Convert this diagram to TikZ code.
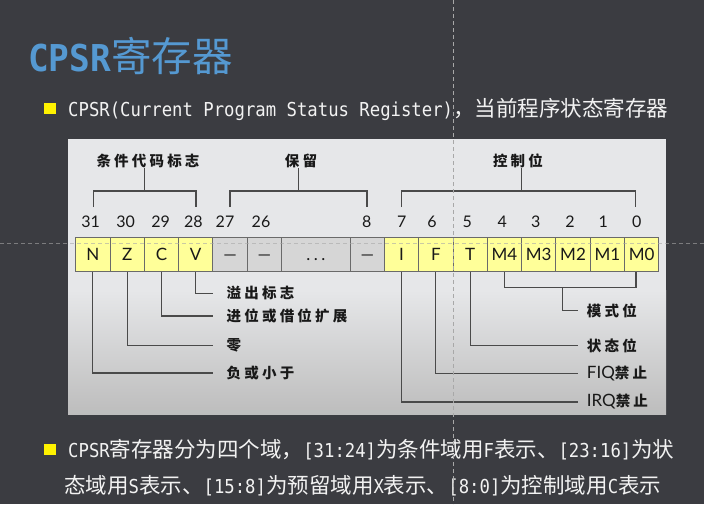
\documentclass[tikz,border=0pt]{standalone}
\usepackage{fontspec}
\setmainfont{Lato}
\newfontfamily\cjk{Noto Sans CJK SC}
\newfontfamily\cjksp[LetterSpace=22]{Noto Sans CJK SC}
\newfontfamily\monob[FakeStretch=0.90]{DejaVu Sans Mono}
\newfontfamily\monot[FakeStretch=0.93]{DejaVu Sans Mono}
\usetikzlibrary{calc}
\definecolor{bgc}{HTML}{3B3C41}
\definecolor{panelc}{HTML}{E6E7E9}
\definecolor{panelb}{HTML}{BDBDBD}
\definecolor{yel}{HTML}{FFFF99}
\definecolor{gry}{HTML}{D6D6D6}
\definecolor{cellb}{HTML}{6A6A6A}
\definecolor{lnc}{HTML}{4A4A4A}
\definecolor{titlec}{HTML}{5599D2}
\definecolor{txtc}{HTML}{F2F2F2}
\definecolor{guidec}{HTML}{A8A8A8}
\newcommand\LT[1]{{\fontsize{19.2}{23}\selectfont\monob #1}}
\newcommand\CJ[1]{{\fontsize{21.5}{25}\selectfont\cjk #1}}
\tikzset{
  cell/.style={draw=cellb, line width=1pt, inner sep=0pt, minimum height=34pt,
    text height=12.5pt, text depth=0pt, font=\fontsize{17}{20}\selectfont, text=black!90},
  num/.style={inner sep=0pt, font=\fontsize{16}{19}\selectfont, text=black!90},
  ln/.style={draw=lnc, line width=1.2pt},
  toplbl/.style={inner sep=0pt, font=\fontsize{14.5}{17}\selectfont\cjksp\bfseries, text=black!90},
  lbl/.style={inner ysep=0pt, anchor=west, font=\fontsize{14.5}{17}\selectfont\cjksp\bfseries, text=black!90},
  bullet/.style={fill=yellow, draw=none, minimum width=12pt, minimum height=11pt, inner sep=0pt},
  guide/.style={draw=guidec, line width=0.8pt, dash pattern=on 4pt off 3pt},
}
\begin{document}
\begin{tikzpicture}[x=1pt,y=-1pt]
\useasboundingbox (0,0) rectangle (704,504);
\fill[bgc] (0,0) rectangle (704,504);
% title
\node[anchor=base west, inner sep=0pt, text=titlec] (title) at (28,71)
  {{\fontsize{37}{40}\selectfont\monot\bfseries CPSR}{\fontsize{40.5}{44}\selectfont\cjk 寄存器}};
% bullet 1
\node[bullet] (sq1) at (49.5,108) {};
\node[anchor=base west, inner sep=0pt, text=txtc] (t1) at (68,116)
  {\LT{CPSR(Current Program Status Register)}\CJ{，当前程序状态寄存器}};
% panel
\begin{scope}
\clip (68,139) rectangle (666,414);
\fill[panelc] (68,139) rectangle (666,414);
\shade[top color=panelc, bottom color=panelb] (68,290) rectangle (666,414);
% cells
\foreach \nm/\lab/\i/\w/\fc in {N/N/0/1/yel, Z/Z/1/1/yel, C/C/2/1/yel, V/V/3/1/yel,
  ga/—/4/1/gry, gb/—/5/1/gry, gd/{.\hspace{3.5pt}.\hspace{3.5pt}.}/6/2/gry, gc/—/8/1/gry,
  I/I/9/1/yel, F/F/10/1/yel, T/T/11/1/yel, Ma/M4/12/1/yel, Mb/M3/13/1/yel,
  Mc/M2/14/1/yel, Md/M1/15/1/yel, Me/M0/16/1/yel}
  \node[cell, fill=\fc, minimum width=\w*34.3pt] (\nm) at ({75.7+(\i+\w/2)*34.3},254) {\lab};
% bit numbers
\foreach \nm/\lab/\x in {b31/31/90.7, b30/30/125.7, b29/29/160.7, b28/28/193.3, b27/27/225,
  b26/26/261, b8/8/366.7, b7/7/401.7, b6/6/432, b5/5/467.3, b4/4/502.3, b3/3/535.7,
  b2/2/570, b1/1/603.3, b0/0/636.7}
  \node[num] (\nm) at (\x,221.5) {\lab};
% top brackets
\node[toplbl] (cond) at (148,161) {条件代码标志};
\node[toplbl] (resv) at (301,161) {保留};
\node[toplbl] (ctrl) at (518,161) {控制位};
\coordinate (la) at (93.3,207); \coordinate (lm) at (144.3,191); \coordinate (lb) at (196,207);
\coordinate (ma) at (230,207);  \coordinate (mm) at (298.7,191); \coordinate (mb) at (367,207);
\coordinate (ra) at (401.7,207); \coordinate (rm) at (521.7,191); \coordinate (rb) at (635.7,207);
\draw[ln] (la) |- (lm) -| (lb);
\draw[ln] (lm) -- (lm |- cond.south);
\draw[ln] (ma) |- (mm) -| (mb);
\draw[ln] (mm) -- (mm |- resv.south);
\draw[ln] (ra) |- (rm) -| (rb);
\draw[ln] (rm) -- (rm |- ctrl.south);
% left labels
\node[lbl, inner xsep=13.5pt] (lovf) at (213,293.3) {溢出标志};
\node[lbl, inner xsep=13.5pt] (lcar) at (213,316) {进位或借位扩展};
\node[lbl, inner xsep=13.5pt] (lzer) at (213,345.7) {零};
\node[lbl, inner xsep=13.5pt] (lneg) at (213,373) {负或小于};
\draw[ln] (V.south) |- (lovf.west);
\draw[ln] (C.south) |- (lcar.west);
\draw[ln] (Z.south) |- (lzer.west);
\draw[ln] (N.south) |- (lneg.west);
% right labels
\node[lbl, inner xsep=8.7pt] (rmode) at (578,310.7) {模式位};
\node[lbl, inner xsep=8.7pt] (rstat) at (578,345.7) {状态位};
\node[lbl, inner xsep=8.7pt] (rfiq) at (578,373.3) {{\fontsize{17}{20}\selectfont\rmfamily\mdseries FIQ}禁止};
\node[lbl, inner xsep=8.7pt] (rirq) at (578,402) {{\fontsize{17}{20}\selectfont\rmfamily\mdseries IRQ}禁止};
\coordinate (mj) at (562.3,287.3);
\draw[ln] (Ma.south) |- (mj) -| ([xshift=-5.6pt]Me.south);
\draw[ln] (mj) |- (rmode.west);
\draw[ln] (T.south) |- (rstat.west);
\draw[ln] (F.south) |- (rfiq.west);
\draw[ln] (I.south) |- (rirq.west);
\end{scope}
% bullet 2
\node[bullet] (sq2) at (49.5,449) {};
\node[anchor=base west, inner sep=0pt, text=txtc] (t2) at (68,457.3)
  {\LT{CPSR}\CJ{寄存器分为四个域，}\LT{[31:24]}\CJ{为条件域用}\LT{F}\CJ{表示、}\LT{[23:16]}\CJ{为状}};
\node[anchor=base west, inner sep=0pt, text=txtc] (t3) at (64,493.3)
  {\CJ{态域用}\LT{S}\CJ{表示、}\LT{[15:8]}\CJ{为预留域用}\LT{X}\CJ{表示、}\LT{[8:0]}\CJ{为控制域用}\LT{C}\CJ{表示}};
% slide guides
\coordinate (gt) at (453,0); \coordinate (gbm) at (453,504);
\coordinate (gl) at (0,243); \coordinate (gr) at (704,243);
\draw[guide] (gt) -- (gbm);
\draw[guide, opacity=0.6] (gl) -- (gr);
\end{tikzpicture}
\end{document}
